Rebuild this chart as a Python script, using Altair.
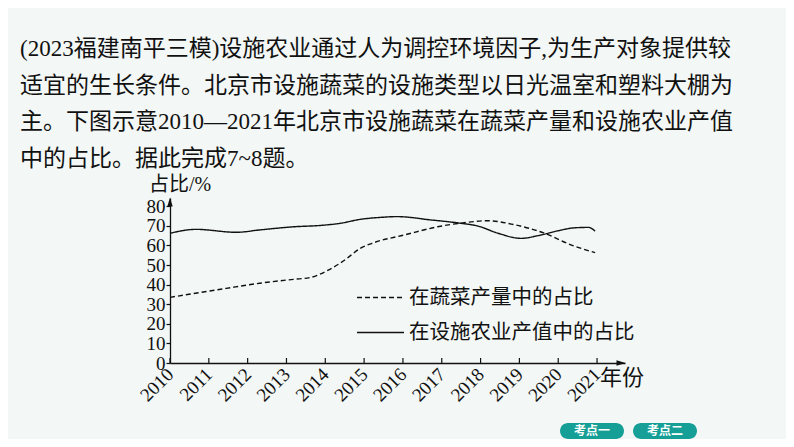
import altair as alt
import pandas as pd

# ---------------- data ----------------
header_lines = [
    "(2023福建南平三模)设施农业通过人为调控环境因子,为生产对象提供较",
    "适宜的生长条件。北京市设施蔬菜的设施类型以日光温室和塑料大棚为",
    "主。下图示意2010—2021年北京市设施蔬菜在蔬菜产量和设施农业产值",
    "中的占比。据此完成7~8题。",
]
series_names = ["在蔬菜产量中的占比", "在设施农业产值中的占比"]

# share in vegetable output (dashed)
dashed_years = [2010.0, 2011.45, 2012.31, 2013.18, 2013.61, 2014.04, 2014.52,
                2014.9, 2015.25, 2016.03, 2016.89, 2017.58, 2018.19, 2018.79,
                2019.65, 2020.34, 2020.95]
dashed_values = [33.5, 38.1, 40.7, 42.7, 43.6, 47.0, 52.8,
                 58.5, 61.4, 65.3, 69.5, 71.6, 72.6, 70.9,
                 66.2, 60.2, 56.3]

# share in facility-agriculture output value (solid)
solid_years = [2010.0, 2010.67, 2011.71, 2012.31, 2013.18, 2013.87, 2014.39,
               2014.9, 2015.42, 2015.85, 2016.72, 2017.49, 2017.93, 2018.45,
               2019.05, 2019.48, 2020.0, 2020.43, 2020.78, 2020.95]
solid_values = [66.2, 68.2, 66.7, 67.9, 69.5, 70.2, 71.3,
                73.3, 74.3, 74.7, 73.0, 71.3, 69.9, 66.2,
                63.6, 65.0, 67.5, 69.0, 69.2, 67.3]

x_ticks = list(range(2010, 2022))
y_ticks = [0, 10, 20, 30, 40, 50, 60, 70, 80]
y_title = "占比/%"
x_title = "年份"
buttons = ["考点一", "考点二"]

# ---------------- build tables ----------------
df = pd.concat([
    pd.DataFrame({"year": dashed_years, "value": dashed_values, "series": series_names[0]}),
    pd.DataFrame({"year": solid_years, "value": solid_values, "series": series_names[1]}),
])
ticks_df = pd.DataFrame({"year": x_ticks})
one = pd.DataFrame({"k": [0]})

W, H = 455, 165
SERIF = "Liberation Serif, Noto Sans CJK SC"
CJK = "Noto Sans CJK SC"
INK = "#111111"
BG = "#f3f7f5"
TEAL = "#169f97"

x_scale = alt.Scale(domain=[2010, 2021.72], nice=False, zero=False)
y_scale = alt.Scale(domain=[0, 84.2], nice=False)

lines = alt.Chart(df).mark_line(interpolate="monotone", color=INK, strokeWidth=1.4).encode(
    x=alt.X("year:Q", scale=x_scale,
            axis=alt.Axis(values=x_ticks, format="d", labelAngle=-45, labelAlign="right",
                          labelBaseline="middle", ticks=False, title=None, grid=False,
                          domainColor=INK, domainWidth=1.3, labelFont=SERIF, labelFontSize=19,
                          labelColor=INK, labelPadding=8, labelOverlap=False, labelFlush=False)),
    y=alt.Y("value:Q", scale=y_scale,
            axis=alt.Axis(values=y_ticks, title=None, grid=False, tickSize=4, tickColor=INK,
                          tickWidth=1.2, domainColor=INK, domainWidth=1.3, labelFont=SERIF,
                          labelFontSize=19, labelColor=INK, labelPadding=1, labelOverlap=False,
                          labelFlush=False)),
    strokeDash=alt.StrokeDash(
        "series:N",
        scale=alt.Scale(domain=series_names, range=[[5, 3], [1, 0]]),
        legend=alt.Legend(orient="none", legendX=186, legendY=75, title=None,
                          symbolType="stroke", symbolSize=2209, symbolStrokeWidth=1.3,
                          symbolStrokeColor=INK, labelFont=CJK, labelFontSize=20.5,
                          labelColor=INK, labelLimit=400, labelOffset=4, rowPadding=0),
    ),
)

x_ticks_layer = alt.Chart(ticks_df).mark_rule(color=INK, strokeWidth=1.2).encode(
    x=alt.X("year:Q", scale=x_scale), y=alt.value(H), y2=alt.value(H - 5)
)

y_arrow = alt.Chart(one).mark_point(shape="M0,-1L0.6,1L-0.6,1Z", filled=True, color=INK,
                                    size=81, opacity=1).encode(
    x=alt.value(0), y=alt.value(4))
x_arrow = alt.Chart(one).mark_point(shape="M1,0L-1,-0.6L-1,0.6Z", filled=True, color=INK,
                                    size=81, opacity=1).encode(
    x=alt.value(W - 4), y=alt.value(H))

header = alt.Chart(one).mark_text(text=header_lines, align="left", baseline="alphabetic",
                                  fontSize=23, lineHeight=36.7, font=SERIF, color=INK).encode(
    x=alt.value(-150), y=alt.value(-142))

y_label = alt.Chart(one).mark_text(text=y_title, align="left", baseline="middle",
                                   fontSize=20, font=SERIF, color=INK).encode(
    x=alt.value(-21), y=alt.value(-13))
x_label = alt.Chart(one).mark_text(text=x_title, align="left", baseline="middle",
                                   fontSize=22, font=CJK, color=INK).encode(
    x=alt.value(430), y=alt.value(180))

btn1 = alt.Chart(one).mark_rect(color=TEAL, cornerRadius=8).encode(
    x=alt.value(390), x2=alt.value(454), y=alt.value(225), y2=alt.value(241))
btn2 = alt.Chart(one).mark_rect(color=TEAL, cornerRadius=8).encode(
    x=alt.value(463), x2=alt.value(527), y=alt.value(225), y2=alt.value(241))
btn1_t = alt.Chart(one).mark_text(text=buttons[0], fontSize=12, fontWeight="bold", font=CJK,
                                  color="white", align="center", baseline="middle").encode(
    x=alt.value(422), y=alt.value(233))
btn2_t = alt.Chart(one).mark_text(text=buttons[1], fontSize=12, fontWeight="bold", font=CJK,
                                  color="white", align="center", baseline="middle").encode(
    x=alt.value(495), y=alt.value(233))

chart = alt.layer(
    lines, x_ticks_layer, y_arrow, x_arrow, header, y_label, x_label,
    btn1, btn2, btn1_t, btn2_t,
).properties(
    width=W, height=H,
    autosize=alt.AutoSizeParams(type="none"),
    padding={"left": 162, "top": 190, "right": 161, "bottom": 76},
    background=BG,
).configure_view(stroke=None)

chart.save("out.html", embed_options={"renderer": "svg", "actions": False})
